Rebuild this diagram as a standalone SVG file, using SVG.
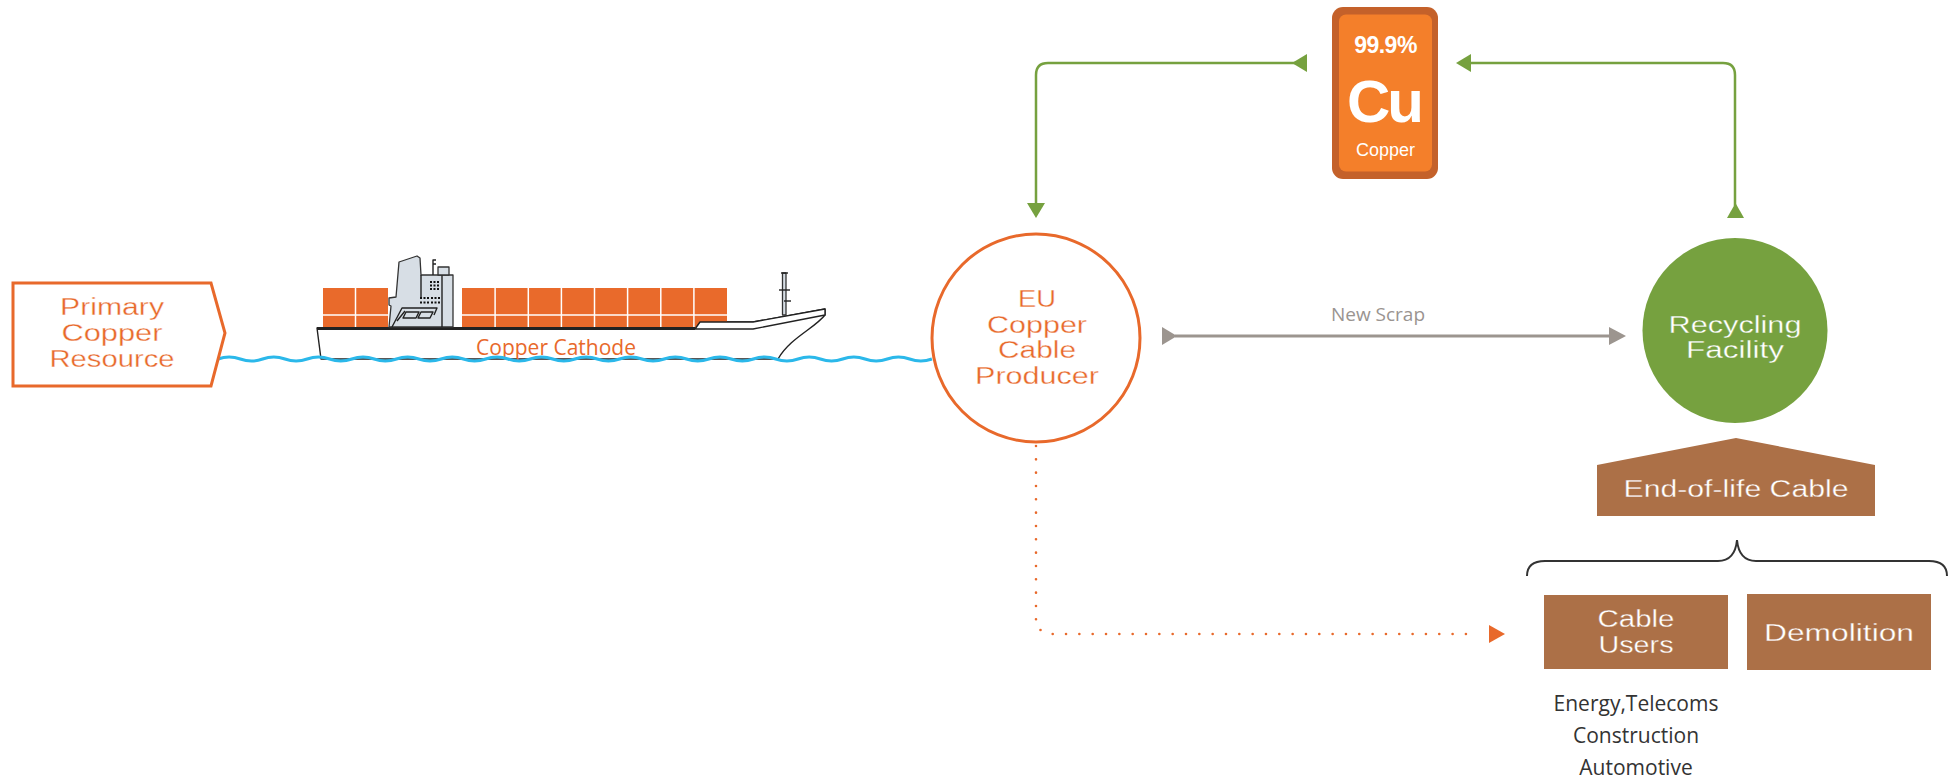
<svg xmlns="http://www.w3.org/2000/svg" width="1951" height="779" viewBox="0 0 1951 779">
  <style>
    .node-text { font-family: "Liberation Sans", Arial, sans-serif; font-size: 23px; text-anchor: middle; stroke-width: 0.3px; }
    .thin-text { font-family: "Open Sans", "Liberation Sans", sans-serif; text-anchor: middle; }
    .orange-text { fill: #e8692b; }
    .node-text.orange-text { stroke: #ffffff; }
    .white-text { fill: #ffffff; }
    .on-green { stroke: #76a13f; }
    .on-brown { stroke: #ac7047; }
    .cu-text { font-family: "Liberation Sans", Arial, sans-serif; fill: #ffffff; text-anchor: middle; }
    .green-line { fill: none; stroke: #76a13f; stroke-width: 2.5; }
    .green-head { fill: #76a13f; }
    .grey-line { fill: none; stroke: #9c958f; stroke-width: 3; }
    .grey-head { fill: #9c958f; }
    .dots { fill: none; stroke: #e8692b; stroke-width: 2.6; stroke-linecap: round; stroke-dasharray: 0 13.33; }
    .brown { fill: #ac7047; }
    .container { fill: #e96a2b; }
    .grid { stroke: #ffffff; stroke-width: 1.5; }
    .ship-line { stroke: #222222; stroke-width: 1.4; stroke-linejoin: round; }
    .super { fill: #d7dee5; stroke: #333333; stroke-width: 1.3; stroke-linejoin: round; }
    .window { fill: #111111; }
  </style>

  <rect width="1951" height="779" fill="#ffffff"/>

  <!-- Cargo ship carrying cathode copper -->
  <g id="ship">
    <!-- hull -->
    <path class="ship-line" fill="#ffffff" d="M317,328 H695 L700,322 H753 L825,309 V315 C815,328 790,338 778,359 H321 Z"/>
    <!-- containers, left stack -->
    <rect class="container" x="323" y="288" width="65" height="40"/>
    <!-- containers, right stack -->
    <rect class="container" x="462" y="288" width="265" height="40"/>
    <g class="grid">
      <line x1="323" y1="315" x2="388" y2="315"/>
      <line x1="355.5" y1="288" x2="355.5" y2="328"/>
      <line x1="462" y1="315" x2="727" y2="315"/>
      <line x1="495.1" y1="288" x2="495.1" y2="328"/>
      <line x1="528.3" y1="288" x2="528.3" y2="328"/>
      <line x1="561.4" y1="288" x2="561.4" y2="328"/>
      <line x1="594.5" y1="288" x2="594.5" y2="328"/>
      <line x1="627.6" y1="288" x2="627.6" y2="328"/>
      <line x1="660.8" y1="288" x2="660.8" y2="328"/>
      <line x1="693.9" y1="288" x2="693.9" y2="328"/>
    </g>
    <!-- forecastle drawn over the last containers -->
    <path class="ship-line" fill="#ffffff" d="M695,329 L700,322 H753 L825,309 V315 L753,329 Z"/>
    <!-- deck -->
    <line x1="317" y1="328.5" x2="695" y2="328.5" stroke="#222222" stroke-width="3"/>
    <!-- foremast -->
    <rect class="super" x="782.5" y="273" width="3.5" height="42"/>
    <line class="ship-line" x1="779" y1="290" x2="790" y2="290" stroke-width="2"/>
    <line class="ship-line" x1="784" y1="301" x2="791" y2="301" stroke-width="2"/>
    <line class="ship-line" x1="781" y1="273" x2="788" y2="273" stroke-width="2"/>
    <!-- superstructure -->
    <path class="super" d="M399,262 L417,256 L420,258 L421,275 H453 V327 H389 L391,306 L389,305 V298 L396,297 Z"/>
    <line class="ship-line" x1="442" y1="275" x2="442" y2="327"/>
    <line class="ship-line" x1="421" y1="275" x2="421" y2="297"/>
    <rect class="super" x="438" y="267" width="11" height="8"/>
    <path class="ship-line" fill="none" d="M433,275 V260 H436 M433,264 H436"/>
    <!-- bridge front -->
    <path class="ship-line" fill="none" d="M392,327 L402,308 H437 L434,315 M397,321 L405,311"/>
    <path class="ship-line" fill="none" d="M406,312 H419 L416,318 H403 Z M421,312 H433 L430,318 H418 Z"/>
    <!-- windows -->
    <g class="window">
      <rect x="430" y="281" width="2" height="2"/><rect x="433.5" y="281" width="2" height="2"/><rect x="437" y="281" width="2" height="2"/>
      <rect x="430" y="284.5" width="2" height="2"/><rect x="433.5" y="284.5" width="2" height="2"/><rect x="437" y="284.5" width="2" height="2"/>
      <rect x="430" y="288" width="2" height="2"/><rect x="433.5" y="288" width="2" height="2"/><rect x="437" y="288" width="2" height="2"/>
      <rect x="420" y="297" width="2" height="2"/><rect x="423.5" y="297" width="2" height="2"/><rect x="427" y="297" width="2" height="2"/>
      <rect x="431" y="297" width="2" height="2"/><rect x="434.5" y="297" width="2" height="2"/><rect x="438" y="297" width="2" height="2"/>
      <rect x="420" y="301.5" width="2" height="2"/><rect x="423.5" y="301.5" width="2" height="2"/><rect x="427" y="301.5" width="2" height="2"/>
      <rect x="431" y="301.5" width="2" height="2"/><rect x="434.5" y="301.5" width="2" height="2"/><rect x="438" y="301.5" width="2" height="2"/>
    </g>
    <text class="thin-text orange-text" x="556" y="355" font-size="21">Copper Cathode</text>
  </g>

  <!-- sea -->
  <path id="sea" fill="none" stroke="#2bb8ea" stroke-width="3" d="M218,359 q11.16,-4 22.31,0 t22.31,0 t22.31,0 t22.31,0 t22.31,0 t22.31,0 t22.31,0 t22.31,0 t22.31,0 t22.31,0 t22.31,0 t22.31,0 t22.31,0 t22.31,0 t22.31,0 t22.31,0 t22.31,0 t22.31,0 t22.31,0 t22.31,0 t22.31,0 t22.31,0 t22.31,0 t22.31,0 t22.31,0 t22.31,0 t22.31,0 t22.31,0 t22.31,0 t22.31,0 t22.31,0 t22.31,0"/>

  <!-- connectors -->
  <g id="connectors">
    <!-- copper out to the cable producer -->
    <path class="green-line" d="M1306,63 H1048 Q1036,63 1036,75 V206"/>
    <polygon class="green-head" points="1292,63 1307,54 1307,72"/>
    <polygon class="green-head" points="1027,203 1045,203 1036,218"/>
    <!-- recycled copper back to the cathode -->
    <path class="green-line" d="M1735,206 V75 Q1735,63 1723,63 H1469"/>
    <polygon class="green-head" points="1456,63 1471,54 1471,72"/>
    <polygon class="green-head" points="1727,218 1744,218 1735.5,203"/>
    <!-- new scrap -->
    <line class="grey-line" x1="1175" y1="336" x2="1611" y2="336"/>
    <polygon class="grey-head" points="1162,327 1177,336 1162,345"/>
    <polygon class="grey-head" points="1609,327 1626,336 1609,345"/>
    <text class="thin-text" x="1378" y="321" font-size="19" fill="#9a9490">New Scrap</text>
    <!-- cables to users -->
    <path class="dots" d="M1036,446 V620"/>
    <circle cx="1040.5" cy="630" r="1.3" fill="#e8692b"/>
    <path class="dots" d="M1052.7,634 H1479"/>
    <polygon points="1489,625 1505,634 1489,643" fill="#e8692b"/>
    <!-- brace grouping the end-of-life sources -->
    <path fill="none" stroke="#333333" stroke-width="2" d="M1527,576 Q1527,561 1545,561 H1718 Q1735,561 1737,540 Q1739,561 1756,561 H1929 Q1947,561 1947,576"/>
  </g>

  <g id="primary-copper-resource">
    <path d="M13,283 H211 L225,333 L211,386 H13 Z" fill="#ffffff" stroke="#e8692b" stroke-width="3"/>
    <text class="node-text orange-text" x="112" y="315" textLength="104" lengthAdjust="spacingAndGlyphs">Primary</text>
    <text class="node-text orange-text" x="112" y="341" textLength="101" lengthAdjust="spacingAndGlyphs">Copper</text>
    <text class="node-text orange-text" x="112" y="367" textLength="125" lengthAdjust="spacingAndGlyphs">Resource</text>
  </g>

  <g id="eu-copper-cable-producer">
    <circle cx="1036" cy="338" r="104" fill="#ffffff" stroke="#e8692b" stroke-width="3"/>
    <text class="node-text orange-text" x="1037" y="307" textLength="38" lengthAdjust="spacingAndGlyphs">EU</text>
    <text class="node-text orange-text" x="1037" y="333" textLength="100" lengthAdjust="spacingAndGlyphs">Copper</text>
    <text class="node-text orange-text" x="1037" y="358" textLength="78" lengthAdjust="spacingAndGlyphs">Cable</text>
    <text class="node-text orange-text" x="1037" y="384" textLength="124" lengthAdjust="spacingAndGlyphs">Producer</text>
  </g>

  <g id="copper-tile">
    <rect x="1332" y="7" width="106" height="172" rx="11" fill="#c4612a"/>
    <rect x="1339" y="14.5" width="93" height="157" rx="7" fill="#f47f2a"/>
    <text class="cu-text" x="1385.5" y="53" font-size="23" font-weight="bold" letter-spacing="-0.5">99.9%</text>
    <text class="cu-text" x="1384" y="122" font-size="60" font-weight="bold" letter-spacing="-3">Cu</text>
    <text class="cu-text" x="1385.5" y="156" font-size="18">Copper</text>
  </g>

  <g id="recycling-facility">
    <circle cx="1735" cy="330.5" r="92.5" fill="#76a13f"/>
    <text class="node-text white-text on-green" x="1735" y="333" textLength="133" lengthAdjust="spacingAndGlyphs">Recycling</text>
    <text class="node-text white-text on-green" x="1735" y="358" textLength="98" lengthAdjust="spacingAndGlyphs">Facility</text>
  </g>

  <g id="end-of-life-cable">
    <polygon class="brown" points="1597,465 1736,438 1875,465 1875,516 1597,516"/>
    <text class="node-text white-text on-brown" x="1736" y="497" textLength="225" lengthAdjust="spacingAndGlyphs">End-of-life Cable</text>
  </g>

  <g id="cable-users">
    <rect class="brown" x="1544" y="595" width="184" height="74"/>
    <text class="node-text white-text on-brown" x="1636" y="627" textLength="77" lengthAdjust="spacingAndGlyphs">Cable</text>
    <text class="node-text white-text on-brown" x="1636" y="653" textLength="75" lengthAdjust="spacingAndGlyphs">Users</text>
    <g class="thin-text" font-size="21" fill="#333333">
      <text x="1636" y="711">Energy,Telecoms</text>
      <text x="1636" y="743">Construction</text>
      <text x="1636" y="775">Automotive</text>
    </g>
  </g>

  <g id="demolition">
    <rect class="brown" x="1747" y="594" width="184" height="76"/>
    <text class="node-text white-text on-brown" x="1839" y="641" textLength="150" lengthAdjust="spacingAndGlyphs">Demolition</text>
  </g>
</svg>
